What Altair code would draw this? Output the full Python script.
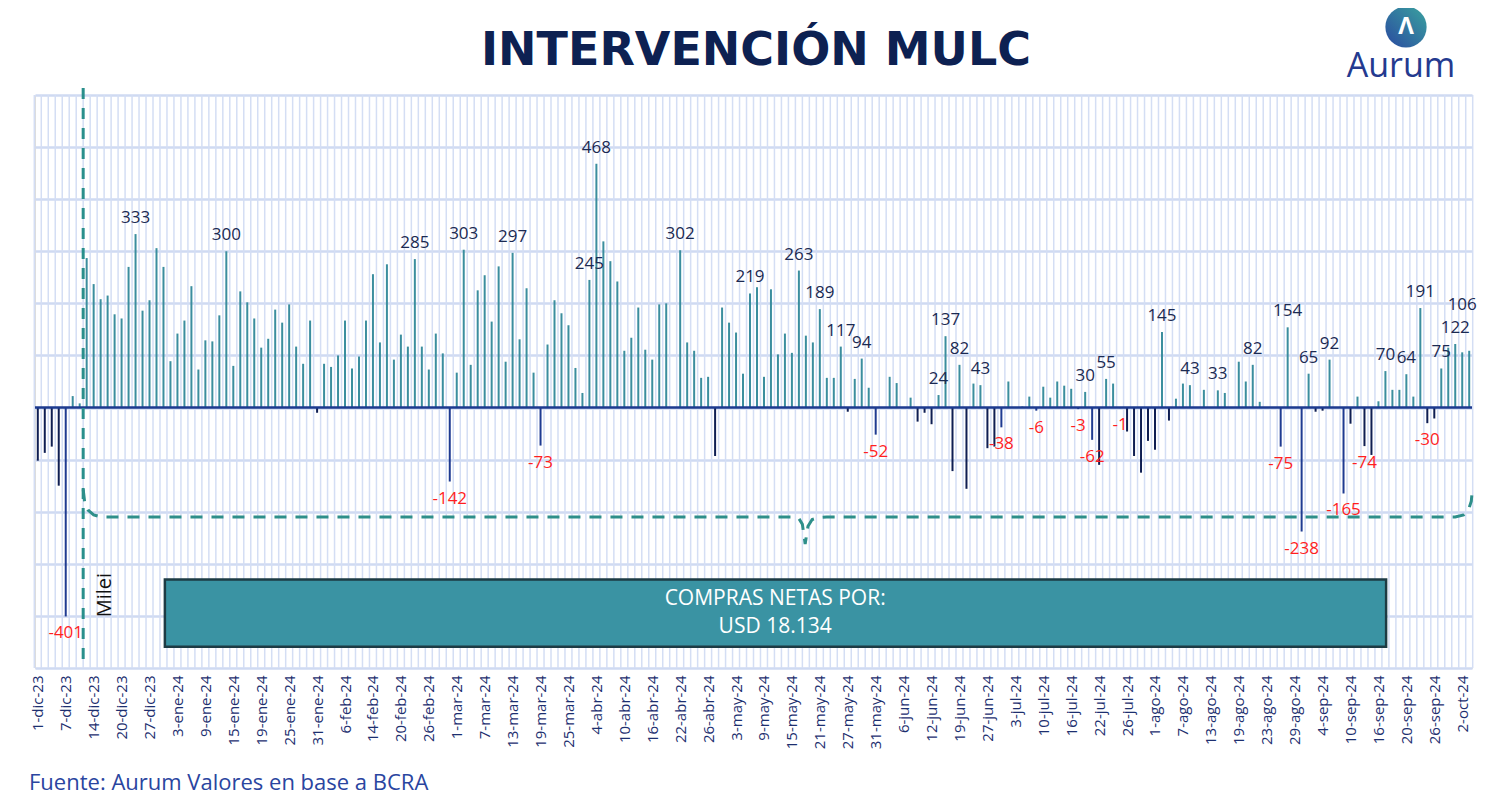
import altair as alt
import pandas as pd

# ---------------- data ----------------
feriados = ["2023-12-08", "2023-12-25", "2024-01-01", "2024-02-12", "2024-02-13",
            "2024-03-28", "2024-03-29", "2024-04-01", "2024-04-02", "2024-05-01",
            "2024-06-17", "2024-06-20", "2024-06-21", "2024-07-09"]
meses = {1: "ene", 2: "feb", 3: "mar", 4: "abr", 5: "may", 6: "jun", 7: "jul",
         8: "ago", 9: "sep", 10: "oct", 11: "nov", 12: "dic"}

valores = [
    -102, -87, -75, -150, -401, 22, 8, 287, 237, 208,
    215, 179, 171, 270, 333, 186, 206, 306, 270, 89,
    142, 167, 233, 73, 129, 127, 177, 300, 80, 223,
    202, 171, 115, 132, 188, 163, 198, 117, 84, 167,
    -10, 84, 78, 100, 167, 75, 98, 167, 256, 125,
    275, 92, 140, 117, 285, 117, 73, 142, 104, -142,
    67, 303, 82, 225, 254, 165, 271, 88, 297, 131,
    229, 67, -73, 121, 206, 181, 158, 76, 28, 245,
    468, 319, 281, 242, 109, 134, 192, 111, 92, 198,
    200, 0, 302, 125, 109, 57, 59, -93, 192, 163,
    144, 65, 219, 231, 59, 227, 102, 142, 105, 263,
    138, 125, 189, 57, 57, 117, -8, 55, 94, 38,
    -52, 0, 59, 47, 0, 19, -27, -10, -32, 24,
    137, -122, 82, -156, 46, 43, -78, -75, -38, 50,
    0, 2, 21, -6, 40, 19, 50, 42, 36, -3,
    30, -62, -110, 55, 46, -1, -46, -93, -125, -64,
    -81, 145, -25, 17, 46, 43, 0, 34, 0, 33,
    28, 0, 88, 50, 82, 11, 0, 0, -75, 154,
    0, -238, 65, -8, -6, 92, 0, -165, -31, 21,
    -74, -91, 12, 70, 34, 34, 64, 21, 191, -30,
    -21, 75, 115, 122, 106, 109,
]
etiquetados = [4, 14, 27, 54, 59, 61, 68, 72, 79, 80, 92, 102, 109, 112, 115, 118,
               120, 129, 130, 132, 135, 138, 143, 149, 150, 151, 153, 155, 161, 165,
               169, 174, 178, 179, 181, 182, 185, 187, 190, 193, 196, 198, 199, 201,
               203, 204]
destacados = [4, 59, 72, 120, 138, 143, 149, 151, 178, 181, 187]
elevados = [204]  # label lifted to avoid clash with its neighbour

total_l1 = "COMPRAS NETAS POR:"
total_l2 = "USD 18.134"
titulo = "INTERVENCIÓN MULC"
fuente = "Fuente: Aurum Valores en base a BCRA"

dias = pd.bdate_range("2023-12-01", "2024-10-03", freq="C", holidays=feriados)
fechas = [f"{d.day}-{meses[d.month]}-{d.strftime('%y')}" for d in dias][:len(valores)]

df = pd.DataFrame({"i": list(range(len(valores))), "valor": valores})
df["fecha"] = fechas + [""] * (len(valores) - len(fechas))


def tipo(row):
    if row["valor"] >= 0:
        return "pos"
    return "negd" if row["i"] in destacados else "neg"


df["tipo"] = df.apply(tipo, axis=1)
df["txt"] = df["valor"].astype(str)
lab = df[df["i"].isin(etiquetados)]
lab_pos = lab[(lab["valor"] >= 0) & (~lab["i"].isin(elevados))]
lab_up = lab[lab["i"].isin(elevados)]
lab_neg = lab[lab["valor"] < 0]
grid_df = pd.DataFrame({"g": [k + 0.5 for k in range(-1, len(valores))]})
uno = pd.DataFrame({"k": [0]})

brace = pd.DataFrame({
    "bx": [6.5, 6.7, 7.2, 8.0, 9.0, 108.0, 109.0, 109.5, 109.9, 110.3, 110.9, 111.9, 113.0,
           203.0, 204.2, 204.9, 205.3, 205.45],
    "by": [-157, -180, -197, -206, -210, -210, -213, -224, -262, -228, -215, -211, -210,
           -210, -206, -196, -180, -157],
})
brace["o"] = range(len(brace))

# ---------------- scales / axes ----------------
FONT = "Open Sans"
W, H = 1437, 573
arr = "[" + ",".join(f"'{f}'" for f in fechas) + "]"
XS = alt.Scale(domain=[-0.4, len(valores) - 0.6], nice=False, zero=False)
XA = alt.Axis(values=list(range(0, len(valores), 4)), labelExpr=f"{arr}[datum.value]",
              labelAngle=-90, labelFontSize=15, labelColor="#1d2f6f", ticks=False,
              domain=False, grid=False, title=None, labelPadding=7, labelFont=FONT,
              labelFontWeight="normal")
YS = alt.Scale(domain=[-500, 600], nice=False, zero=False)
YA = alt.Axis(values=list(range(-500, 700, 100)), labels=False, ticks=False, domain=False,
              title=None, grid=True, gridColor="#cfdaf2", gridWidth=2.5)

vgrid = alt.Chart(grid_df).mark_rule(color="#d4def4", strokeWidth=1.5).encode(
    x=alt.X("g:Q", scale=XS, axis=XA),
    y=alt.Y(datum=600, type="quantitative", scale=YS, axis=YA),
    y2=alt.Y2(datum=-500),
)

bars = alt.Chart(df).mark_rule().encode(
    x=alt.X("i:Q", scale=XS, axis=XA),
    y=alt.Y("valor:Q", scale=YS, axis=YA),
    y2=alt.Y2(datum=0),
    color=alt.Color("tipo:N", scale=alt.Scale(domain=["pos", "neg", "negd"],
                                             range=["#3b8e9e", "#0f1e52", "#1f3b91"]),
                    legend=None),
    strokeWidth=alt.StrokeWidth("tipo:N", scale=alt.Scale(domain=["pos", "neg", "negd"],
                                                         range=[2, 2, 4.5]),
                                legend=None),
)

zero = alt.Chart(uno).mark_rule(color="#1c3a8f", strokeWidth=2.5).encode(
    y=alt.Y(datum=0, type="quantitative", scale=YS, axis=YA),
)

tpos = alt.Chart(lab_pos).mark_text(baseline="bottom", dy=-7, fontSize=17, fontWeight="normal",
                                    color="#1b2a52", font=FONT).encode(
    x=alt.X("i:Q", scale=XS, axis=XA), y=alt.Y("valor:Q", scale=YS, axis=YA), text="txt:N")
tup = alt.Chart(lab_up).mark_text(baseline="bottom", dy=-38, fontSize=17, fontWeight="normal",
                                  color="#1b2a52", font=FONT).encode(
    x=alt.X("i:Q", scale=XS, axis=XA), y=alt.Y("valor:Q", scale=YS, axis=YA), text="txt:N")
tneg = alt.Chart(lab_neg).mark_text(baseline="top", dy=9, fontSize=17, fontWeight="normal",
                                    color="#ff1f1f", font=FONT).encode(
    x=alt.X("i:Q", scale=XS, axis=XA), y=alt.Y("valor:Q", scale=YS, axis=YA), text="txt:N")

milei = alt.Chart(uno).mark_rule(color="#2a8f8c", strokeWidth=3, strokeDash=[11, 9]).encode(
    x=alt.X(datum=6.5, type="quantitative", scale=XS, axis=XA),
    y=alt.value(-7), y2=alt.value(H),
)
milei_txt = alt.Chart(uno).mark_text(text="Milei", angle=270, fontSize=20, color="#111111",
                                     font=FONT, fontWeight="normal").encode(
    x=alt.X(datum=9.6, type="quantitative", scale=XS, axis=XA),
    y=alt.Y(datum=-360, type="quantitative", scale=YS, axis=YA),
)

brace_l = alt.Chart(brace).mark_line(color="#2e8f8a", strokeWidth=3, strokeDash=[12, 9]).encode(
    x=alt.X("bx:Q", scale=XS, axis=XA), y=alt.Y("by:Q", scale=YS, axis=YA), order="o:Q")

box = alt.Chart(uno).mark_rect(fill="#3a93a3", stroke="#1d3b44", strokeWidth=2.5).encode(
    x=alt.X(datum=18.2, type="quantitative", scale=XS, axis=XA), x2=alt.X2(datum=193.1),
    y=alt.Y(datum=-330, type="quantitative", scale=YS, axis=YA), y2=alt.Y2(datum=-459),
)
box_t1 = alt.Chart(uno).mark_text(text=total_l1, color="white", fontSize=21, font=FONT,
                                  fontWeight="normal").encode(
    x=alt.X(datum=105.6, type="quantitative", scale=XS, axis=XA),
    y=alt.Y(datum=-367, type="quantitative", scale=YS, axis=YA),
)
box_t2 = alt.Chart(uno).mark_text(text=total_l2, color="white", fontSize=21, font=FONT,
                                  fontWeight="normal").encode(
    x=alt.X(datum=105.6, type="quantitative", scale=XS, axis=XA),
    y=alt.Y(datum=-422, type="quantitative", scale=YS, axis=YA),
)

title_m = alt.Chart(uno).mark_text(text=titulo, fontSize=46, fontWeight="bold", color="#0d2152",
                                   font="DejaVu Sans", baseline="alphabetic").encode(
    x=alt.value(721), y=alt.value(-30))

grad = alt.LinearGradient(gradient="linear",
                          stops=[alt.GradientStop(color="#2a4aa0", offset=0),
                                 alt.GradientStop(color="#3aa39f", offset=1)],
                          x1=0, x2=1, y1=1, y2=0)
logo_c = alt.Chart(uno).mark_point(shape="circle", filled=True, fill=grad, size=1700,
                                   opacity=1, strokeWidth=0).encode(
    x=alt.value(1371), y=alt.value(-68))
logo_a = alt.Chart(uno).mark_text(text="Λ", fontSize=24, fontWeight="bold", color="white",
                                  font=FONT).encode(x=alt.value(1371), y=alt.value(-68))
logo_t = alt.Chart(uno).mark_text(text="Aurum", fontSize=34, color="#243a8f", font=FONT,
                                  fontWeight="normal", baseline="alphabetic").encode(
    x=alt.value(1366), y=alt.value(-18))

foot = alt.Chart(uno).mark_text(text=fuente, fontSize=22, color="#2a45a0", align="left",
                                font=FONT, fontWeight="normal").encode(
    x=alt.value(-6), y=alt.value(688))

chart = alt.layer(
    vgrid, bars, zero, tpos, tup, tneg, milei, brace_l, box, box_t1, box_t2, milei_txt,
    title_m, logo_c, logo_a, logo_t, foot,
).properties(
    width=W, height=H,
    autosize=alt.AutoSizeParams(type="none"),
    padding={"left": 27, "top": 87, "right": 21, "bottom": 134},
    background="white",
).configure_view(
    stroke="#0d1f4f", strokeWidth=2, fill="#e5ecf9"
).configure(font=FONT)

chart.save("out.html", embed_options={"renderer": "svg", "actions": False})
